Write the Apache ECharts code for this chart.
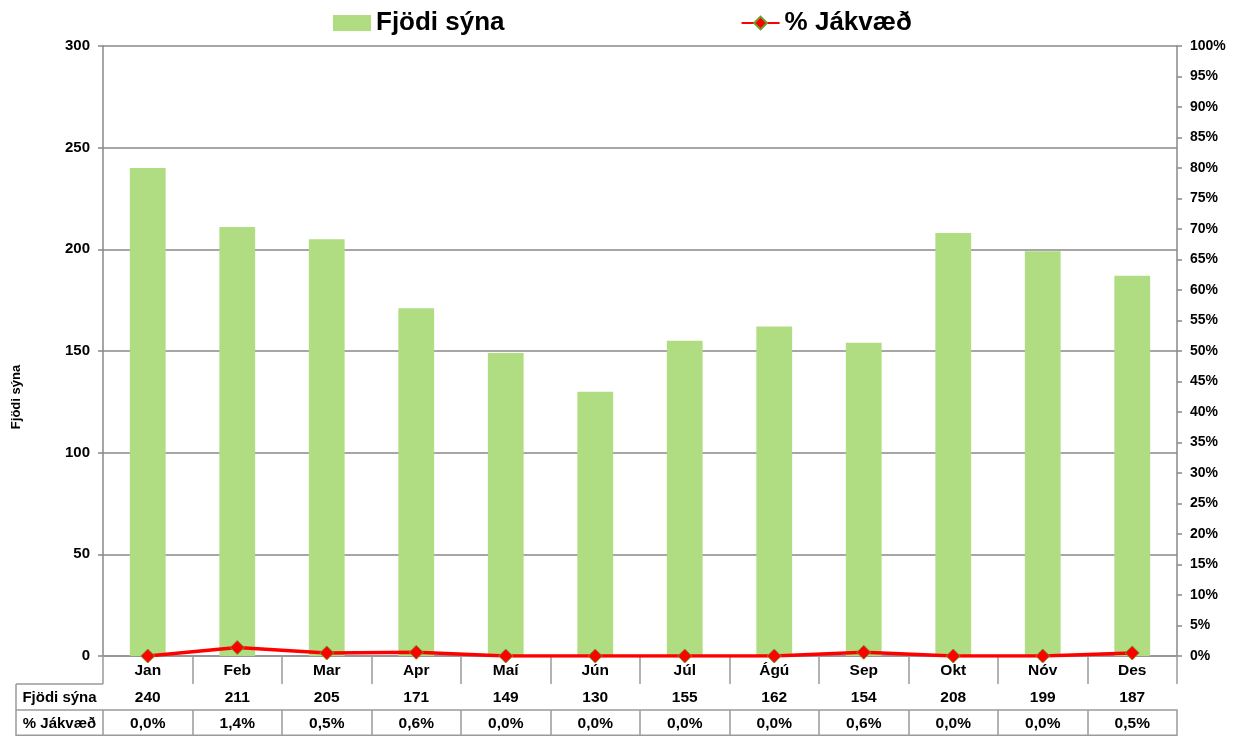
<!DOCTYPE html>
<html>
<head>
<meta charset="utf-8">
<script src="https://cdn.jsdelivr.net/npm/echarts@6/dist/echarts.min.js"></script>
<style>
  html, body { margin: 0; padding: 0; background: #fff; }
  #chart { width: 1246px; height: 736px; }
</style>
</head>
<body>
<div id="chart"></div>
<script>
// Data
const months = ['Jan', 'Feb', 'Mar', 'Apr', 'Maí', 'Jún', 'Júl', 'Ágú', 'Sep', 'Okt', 'Nóv', 'Des'];
const sampleCounts = [240, 211, 205, 171, 149, 130, 155, 162, 154, 208, 199, 187];
const positivePct = [0.0, 1.4, 0.5, 0.6, 0.0, 0.0, 0.0, 0.0, 0.6, 0.0, 0.0, 0.5];
const countName = 'Fjödi sýna';
const pctName = '% Jákvæð';

const FONT = '"Liberation Sans", Arial, sans-serif';
const GRID = { left: 103, right: 69, top: 46, bottom: 80 };
const ROW_H = [28, 26, 26];
const LINE_GRAY = '#888888';
const TABLE_GRAY = '#9a9a9a';

const chart = echarts.init(document.getElementById('chart'));

const W = 1246, H = 736;
const plotBottom = H - GRID.bottom;
const row1Top = plotBottom + ROW_H[0];
const row2Top = row1Top + ROW_H[1];
const tableLeft = 16;

// helper for the extra table axes beneath the plot
function tableAxis(offset, len, labels) {
  return {
    type: 'category',
    data: months,
    position: 'bottom',
    offset: offset,
    axisLine: { show: true, lineStyle: { color: TABLE_GRAY, width: 1.5 } },
    axisTick: { show: true, interval: 0, length: len, inside: false, lineStyle: { color: TABLE_GRAY, width: 1.5 } },
    axisLabel: {
      interval: 0, margin: 6, color: '#000', fontWeight: 'bold', fontSize: 15.5, fontFamily: FONT,
      formatter: (v, i) => labels[i]
    },
    splitLine: { show: false }
  };
}

const option = {
  backgroundColor: '#fff',
  animation: false,
  textStyle: { fontFamily: FONT },
  legend: {
    top: 5,
    left: 328,
    itemGap: 236,
    itemWidth: 38,
    itemHeight: 16,
    textStyle: { fontSize: 26, fontWeight: 'bold', color: '#000', fontFamily: FONT },
    data: [{ name: countName, icon: 'rect' }, { name: pctName }]
  },
  grid: { left: GRID.left, right: GRID.right, top: GRID.top, bottom: GRID.bottom },
  xAxis: [
    {
      type: 'category',
      data: months,
      position: 'bottom',
      axisLine: { show: true, lineStyle: { color: LINE_GRAY, width: 1.5 } },
      axisTick: { show: true, interval: 0, length: ROW_H[0], lineStyle: { color: TABLE_GRAY, width: 1.5 } },
      axisLabel: { interval: 0, margin: 7, color: '#000', fontWeight: 'bold', fontSize: 15.5, fontFamily: FONT },
      splitLine: { show: false }
    },
    tableAxis(ROW_H[0], ROW_H[1], sampleCounts.map(String)),
    tableAxis(ROW_H[0] + ROW_H[1], ROW_H[2], positivePct.map(v => v.toFixed(1).replace('.', ',') + '%'))
  ],
  yAxis: [
    {
      type: 'value',
      min: 0,
      max: 300,
      interval: 50,
      name: countName,
      nameLocation: 'middle',
      nameGap: 80,
      nameTextStyle: { fontSize: 13, fontWeight: 'bold', color: '#000', fontFamily: FONT, padding: [0, 92, 0, 0] },
      axisLine: { show: true, lineStyle: { color: LINE_GRAY, width: 1.5 } },
      axisTick: { show: true, length: 5, lineStyle: { color: LINE_GRAY, width: 1.5 } },
      axisLabel: { margin: 13, color: '#000', fontWeight: 'bold', fontSize: 15, fontFamily: FONT },
      splitLine: { show: true, lineStyle: { color: LINE_GRAY, width: 1.5 } }
    },
    {
      type: 'value',
      min: 0,
      max: 100,
      interval: 5,
      position: 'right',
      axisLine: { show: true, lineStyle: { color: LINE_GRAY, width: 1.5 } },
      axisTick: { show: true, length: 5, lineStyle: { color: LINE_GRAY, width: 1.5 } },
      axisLabel: { margin: 13, color: '#000', fontWeight: 'bold', fontSize: 14, fontFamily: FONT, formatter: '{value}%' },
      splitLine: { show: false }
    }
  ],
  series: [
    {
      name: countName,
      type: 'bar',
      xAxisIndex: 0,
      yAxisIndex: 0,
      barWidth: '40%',
      itemStyle: { color: '#b1dd82' },
      data: sampleCounts
    },
    {
      name: pctName,
      type: 'line',
      xAxisIndex: 0,
      yAxisIndex: 1,
      symbol: 'diamond',
      symbolSize: 14,
      lineStyle: { color: '#ff0000', width: 3.5 },
      itemStyle: { color: '#ff0000', borderColor: '#6f9a2c', borderWidth: 1 },
      data: positivePct
    }
  ],
  graphic: [
    // header column of the data table
    { type: 'line', shape: { x1: tableLeft, y1: row1Top, x2: GRID.left, y2: row1Top }, style: { stroke: TABLE_GRAY, lineWidth: 1.5 } },
    { type: 'line', shape: { x1: tableLeft, y1: row2Top, x2: GRID.left, y2: row2Top }, style: { stroke: TABLE_GRAY, lineWidth: 1.5 } },
    { type: 'line', shape: { x1: tableLeft, y1: H - 0.75, x2: W - GRID.right, y2: H - 0.75 }, style: { stroke: TABLE_GRAY, lineWidth: 1.5 } },
    { type: 'line', shape: { x1: tableLeft, y1: row1Top, x2: tableLeft, y2: H }, style: { stroke: TABLE_GRAY, lineWidth: 1.5 } },
    {
      type: 'text', x: (tableLeft + GRID.left) / 2, y: (row1Top + row2Top) / 2 + 1,
      style: { text: countName, fill: '#000', font: 'bold 15px ' + FONT, align: 'center', verticalAlign: 'middle' }
    },
    {
      type: 'text', x: (tableLeft + GRID.left) / 2, y: (row2Top + H) / 2 + 1,
      style: { text: pctName, fill: '#000', font: 'bold 15px ' + FONT, align: 'center', verticalAlign: 'middle' }
    }
  ]
};

chart.setOption(option);
window.addEventListener('resize', () => chart.resize());
</script>
</body>
</html>
